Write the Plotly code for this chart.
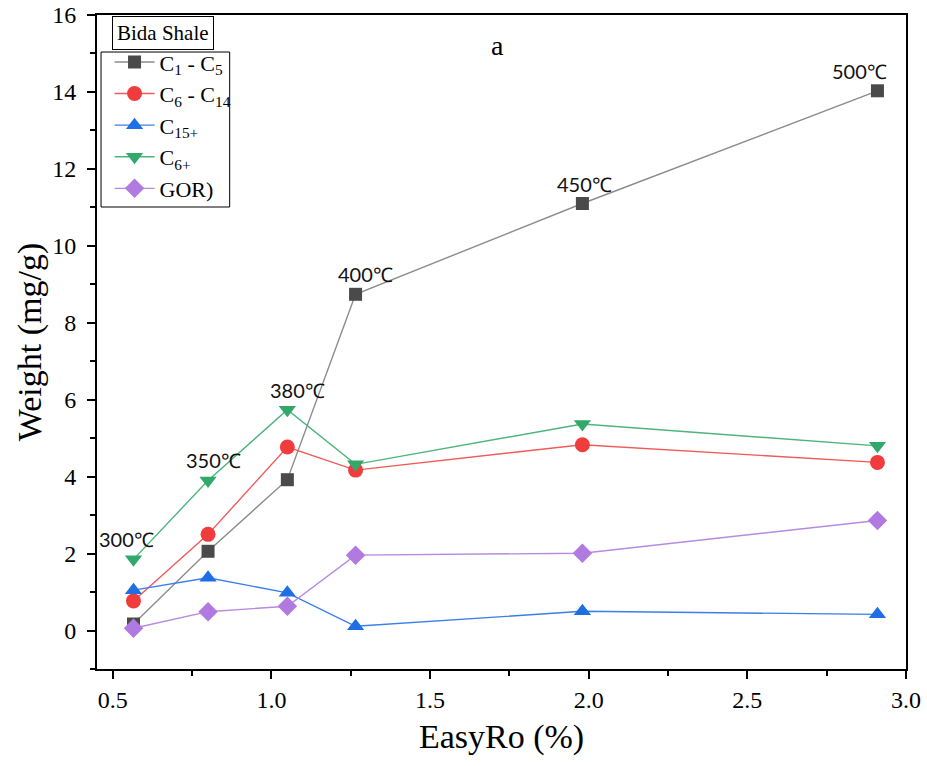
import plotly.graph_objects as go

# EasyRo (%) at each pyrolysis temperature
easy_ro = [0.565, 0.80, 1.05, 1.265, 1.98, 2.91]
temperatures = ["300℃", "350℃", "380℃", "400℃", "450℃", "500℃"]

# Product yields (mg/g)
c1_c5 = [0.17, 2.06, 3.92, 8.74, 11.1, 14.03]
c6_c14 = [0.77, 2.50, 4.77, 4.17, 4.83, 4.37]
c15_plus = [1.05, 1.37, 0.98, 0.11, 0.50, 0.42]
c6_plus = [1.85, 3.90, 5.74, 4.32, 5.37, 4.80]
gor = [0.06, 0.49, 0.63, 1.96, 2.01, 2.86]

series = [
    ("C<sub>1</sub> - C<sub>5</sub>", c1_c5, "#4a4a4a", "#8c8c8c", "square", 13),
    ("C<sub>6</sub> - C<sub>14</sub>", c6_c14, "#f03c3c", "#f05a5a", "circle", 15),
    ("C<sub>15+</sub>", c15_plus, "#1e6ee6", "#3a7ee8", "triangle-up", 15),
    ("C<sub>6+</sub>", c6_plus, "#33a86b", "#4cb57c", "triangle-down", 15),
    ("GOR)", gor, "#b07ae0", "#b58ae0", "diamond", 15),
]

fig = go.Figure()
for name, vals, mcol, lcol, sym, size in series:
    fig.add_trace(go.Scatter(
        x=easy_ro, y=vals, name=name, mode="lines+markers",
        line=dict(color=lcol, width=1.4),
        marker=dict(symbol=sym, size=size, color=mcol),
    ))

# Temperature labels: first three sit above the C6+ points, the rest above C1-C5
label_series = [c6_plus, c6_plus, c6_plus, c1_c5, c1_c5, c1_c5]
label_dx = [-7, 5, 10, 10, 2, -18]
for i, txt in enumerate(temperatures):
    fig.add_annotation(
        x=easy_ro[i], y=label_series[i][i], text=txt, showarrow=False,
        xshift=label_dx[i], yshift=20, xanchor="center", yanchor="middle",
        font=dict(family="Lato", size=20, color="#111111"),
    )

fig.add_annotation(
    x=0.4945, y=0.954, xref="paper", yref="paper", text="a", showarrow=False,
    xanchor="center", yanchor="middle",
    font=dict(family="Liberation Serif", size=28, color="black"),
)
fig.add_annotation(
    x=0.0822, y=0.9725, xref="paper", yref="paper", text="Bida Shale",
    showarrow=False, xanchor="center", yanchor="middle",
    bordercolor="black", borderwidth=1, borderpad=4, bgcolor="white",
    font=dict(family="Liberation Serif", size=21, color="black"),
)

# Frame around the legend entries
fig.add_shape(
    type="rect", xref="paper", yref="paper",
    x0=0.005, x1=0.164, y0=0.7064, y1=0.9434,
    line=dict(color="black", width=1), fillcolor="rgba(0,0,0,0)",
)

axis_common = dict(
    showgrid=False, zeroline=False, showline=True, linecolor="black",
    linewidth=2, mirror=True, ticks="outside", ticklen=8, tickwidth=2,
    tickcolor="black", automargin=False,
    tickfont=dict(family="Liberation Serif", size=24, color="black"),
)

fig.update_xaxes(
    range=[0.45, 3.0], tickvals=[0.5, 1.0, 1.5, 2.0, 2.5, 3.0],
    ticktext=["0.5", "1.0", "1.5", "2.0", "2.5", "3.0"],
    minor=dict(dtick=0.25, tick0=0.5, ticks="outside", ticklen=5,
               tickwidth=2, tickcolor="black"),
    title=dict(text="EasyRo (%)", standoff=12,
               font=dict(family="Liberation Serif", size=34, color="black")),
    **axis_common,
)
fig.update_yaxes(
    range=[-1, 16], tickvals=list(range(0, 17, 2)),
    minor=dict(dtick=1, tick0=0, ticks="outside", ticklen=5,
               tickwidth=2, tickcolor="black"),
    ticklabelstandoff=6,
    title=dict(text="Weight (mg/g)", standoff=0,
               font=dict(family="Liberation Serif", size=34, color="black")),
    **axis_common,
)

fig.update_layout(
    width=927, height=766,
    margin=dict(l=97, r=21, t=15, b=97),
    plot_bgcolor="white", paper_bgcolor="white",
    showlegend=True,
    legend=dict(
        x=0.0155, y=0.96, xanchor="left", yanchor="top",
        borderwidth=0, bgcolor="rgba(0,0,0,0)",
        font=dict(family="Liberation Serif", size=22, color="black"),
        itemwidth=40, tracegroupgap=0,
    ),
)

fig.write_html("out.html")
